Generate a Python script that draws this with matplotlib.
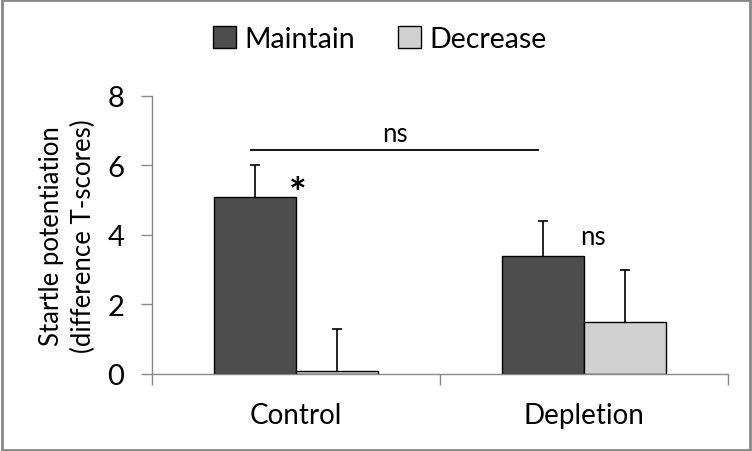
import matplotlib
matplotlib.use("Agg")
import matplotlib.pyplot as plt
import numpy as np
from matplotlib.patches import Rectangle

plt.rcParams['font.family'] = ['Lato', 'DejaVu Sans']

categories = ["Control", "Depletion"]
series_names = ["Maintain", "Decrease"]
maintain = [5.1, 3.4]
maintain_err = [0.9, 1.0]
decrease = [0.1, 1.5]
decrease_err = [1.2, 1.5]
yticks = [0, 2, 4, 6, 8]

fig = plt.figure(figsize=(7.52, 4.52), dpi=100)
ax = fig.add_axes([0.2021, 0.1704, 0.766, 0.615])

x = np.arange(len(categories))
w = 0.285
ax.bar(x - w/2, maintain, w, color='#4d4d4d', edgecolor='black', linewidth=1,
       label=series_names[0])
ax.bar(x + w/2, decrease, w, color='#d0d0d0', edgecolor='black', linewidth=1,
       label=series_names[1])
for xs, vals, errs in [(x - w/2, maintain, maintain_err), (x + w/2, decrease, decrease_err)]:
    eb = ax.errorbar(xs, vals, yerr=[[0]*len(vals), errs], fmt='none', ecolor='black',
                     elinewidth=1.2, capthick=1.2, capsize=3.5)
    eb[1][0].set_visible(False)

ax.set_xlim(-0.5, 1.5)
ax.set_ylim(0, 8)
ax.set_yticks(yticks)
ax.tick_params(axis='y', direction='out', length=8, width=1, color='#888888',
               labelsize=21, pad=12)

ax.set_xticks([-0.5, 0.5, 1.5])
ax.set_xticklabels([])
ax.set_xticks(x, minor=True)
ax.set_xticklabels(categories, minor=True)
ax.tick_params(axis='x', which='major', direction='out', length=8, width=1, color='#888888')
ax.tick_params(axis='x', which='minor', length=0, labelsize=20, pad=20)

for s in ['top', 'right']:
    ax.spines[s].set_visible(False)
for s in ['left', 'bottom']:
    ax.spines[s].set_color('#888888')
    ax.spines[s].set_linewidth(1)

ax.set_ylabel("Startle potentiation\n(difference T-scores)", fontsize=18.5, linespacing=1.3)
ax.yaxis.set_label_coords(-0.098, 0.5)

# annotations
ax.plot([-0.156, 0.84], [6.45, 6.45], color='black', lw=1.3, clip_on=False)
ax.text(0.344, 6.55, "ns", ha='center', va='bottom', fontsize=18.5)
ax.text(0.005, 5.15, "*", ha='center', va='center', fontsize=30, fontweight='bold')
ax.text(1.03, 3.6, "ns", ha='center', va='bottom', fontsize=18.5)

ax.legend(loc='center', bbox_to_anchor=(0.505, 0.912), bbox_transform=fig.transFigure,
          ncol=2, frameon=False, fontsize=20.5, handlelength=0.8, handleheight=0.8,
          handletextpad=0.3, columnspacing=1.5)

fig.patches.append(Rectangle((0.002, 0.003), 0.996, 0.994, transform=fig.transFigure,
                             fill=False, edgecolor='#888888', linewidth=2))

fig.savefig("out.png", dpi=100)
